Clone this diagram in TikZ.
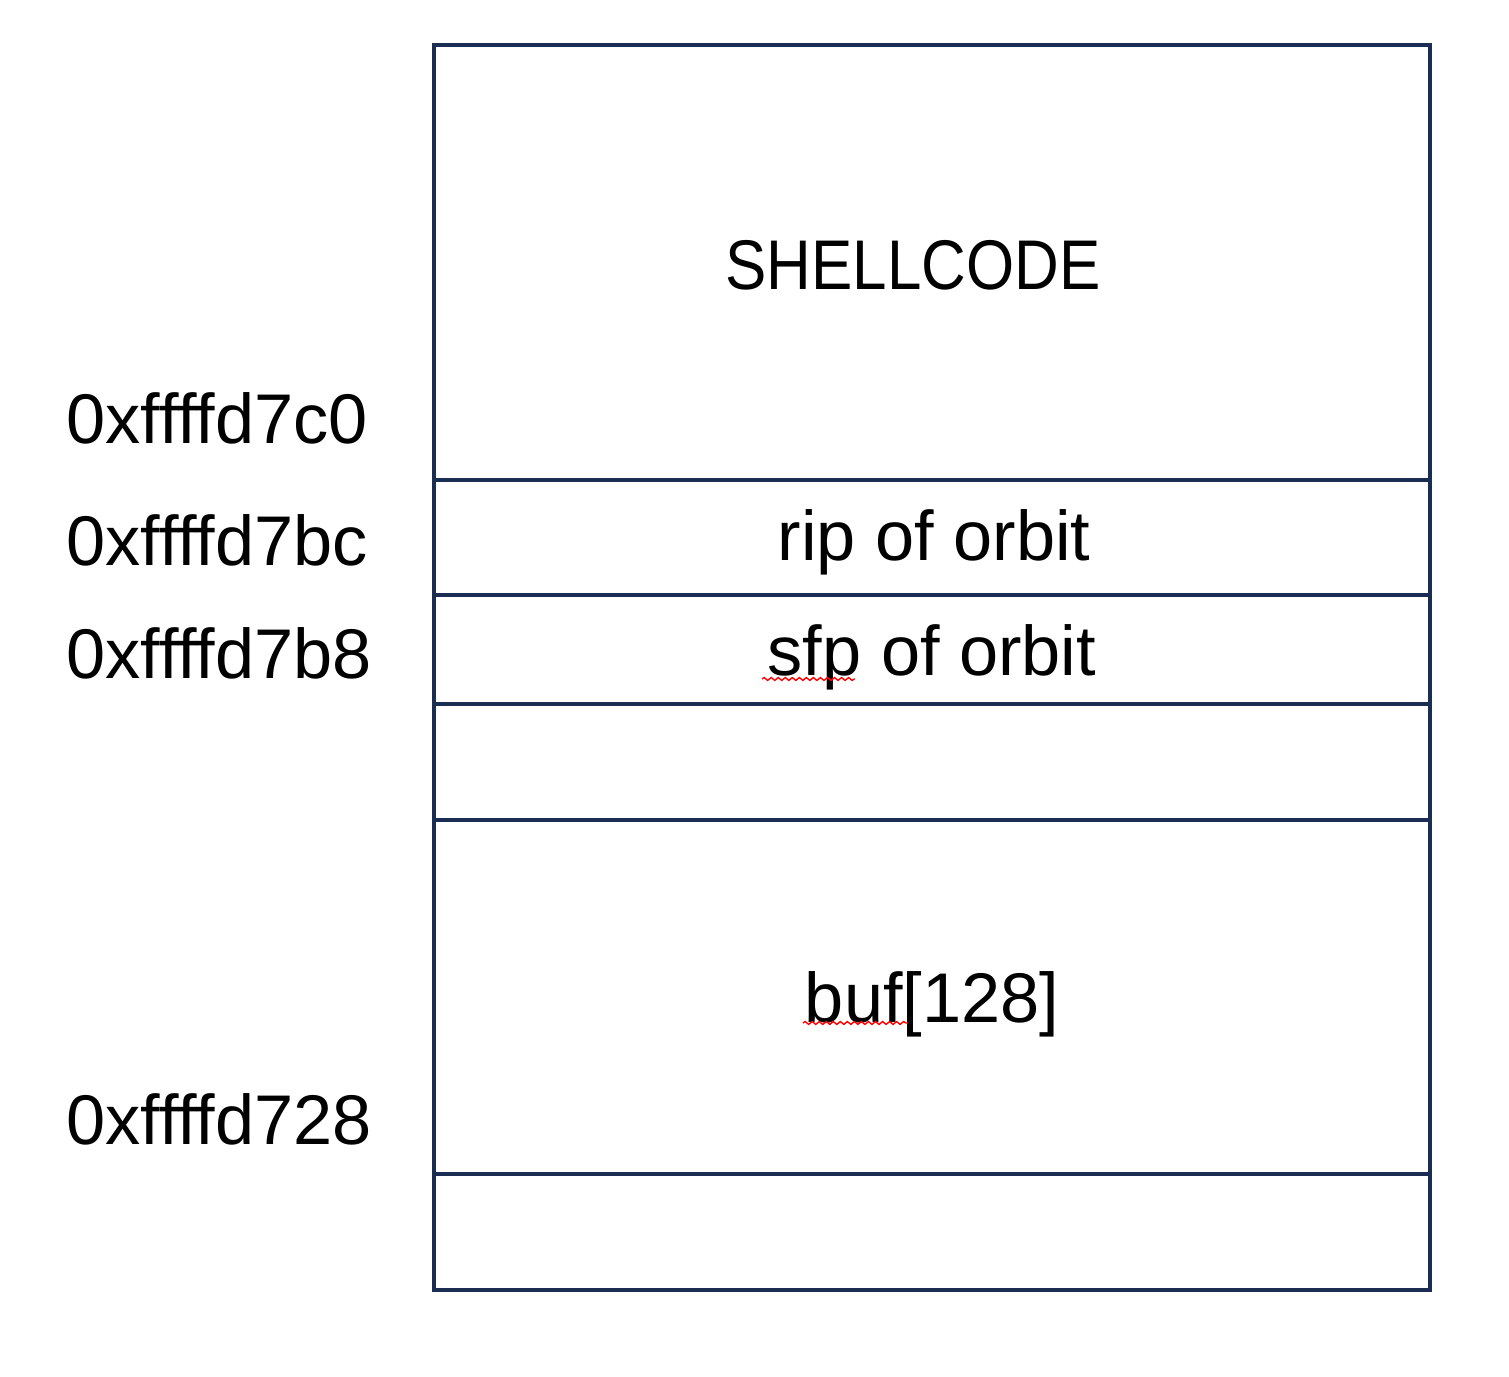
\documentclass[tikz,border=0pt]{standalone}
\usepackage{fontspec}
\setmainfont{Liberation Sans}
\usepackage{xcolor}
\usetikzlibrary{decorations.pathmorphing}
\definecolor{framec}{HTML}{1B2D52}

\tikzset{
	cell/.style={draw=framec, line width=1.15pt, minimum width=9.96cm, inner sep=0pt},
	label/.style={font=\fontsize{20}{24}\selectfont},
	addr/.style={anchor=west, inner sep=0pt, font=\fontsize{20}{24}\selectfont},
	spell/.style={red, line width=0.4pt, decorate, decoration={snake, amplitude=0.4pt, segment length=2pt}}
}

\begin{document}
\begin{tikzpicture}[x=0.01cm, y=-0.01cm]
	\useasboundingbox (0,0) rectangle (1509,1377);
	% stack cells, top to bottom
	\node [cell, minimum height=4.35cm, anchor=north] (shell) at (932,43) {};
	\node [cell, minimum height=1.15cm, anchor=north] (rip) at (932,478) {};
	\node [cell, minimum height=1.09cm, anchor=north] (sfp) at (932,593) {};
	\node [cell, minimum height=1.16cm, anchor=north] (gap) at (932,702) {};
	\node [cell, minimum height=3.54cm, anchor=north] (buf) at (932,818) {};
	\node [cell, minimum height=1.16cm, anchor=north] (low) at (932,1172) {};
	% cell texts
	\node [label] (shelltxt) at (913,265) {\scalebox{0.88}[1]{SHELLCODE}};
	\node [label] (riptxt) at (934,542) {rip of orbit};
	\node [label] (sfptxt) at (932,657) {sfp of orbit};
	\node [label] (buftxt) at (932,1004) {buf[128]};
	% addresses
	\node [addr] (a7c0) at (66,418) {0xffffd7c0};
	\node [addr] (a7bc) at (66,540) {0xffffd7bc};
	\node [addr] (a7b8) at (66,653) {0xffffd7b8};
	\node [addr] (a728) at (66,1119) {0xffffd728};
	% spell-check marks
	\draw [spell] (762,679) -- (855,679);
	\draw [spell] (803,1023) -- (908,1023);
\end{tikzpicture}
\end{document}
